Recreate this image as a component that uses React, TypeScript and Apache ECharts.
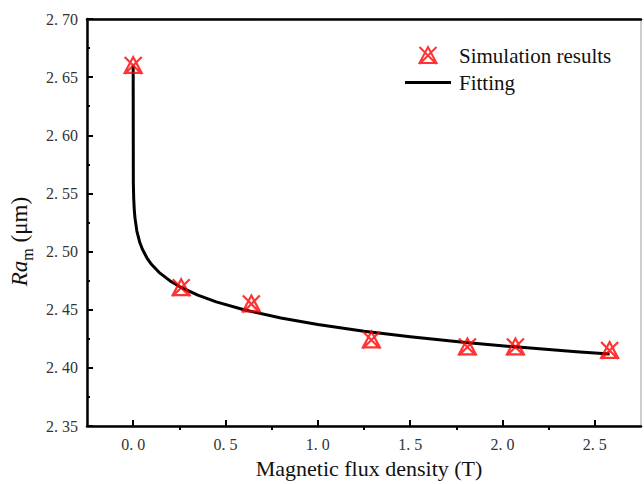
import React, { useEffect, useRef } from "react";
import * as echarts from "echarts";

const simX = [0, 0.26, 0.64, 1.29, 1.81, 2.07, 2.58];
const simY = [2.66, 2.469, 2.455, 2.424, 2.418, 2.418, 2.415];

const fitX = [0, 0.001, 0.003, 0.006, 0.01, 0.02, 0.035, 0.05, 0.075, 0.1, 0.14, 0.2, 0.26, 0.35, 0.45, 0.6, 0.8, 1.0, 1.25, 1.5, 1.8, 2.1, 2.4, 2.58];
const fitY = [2.66, 2.559, 2.5455, 2.536, 2.5286, 2.5177, 2.5083, 2.502, 2.4945, 2.4889, 2.4822, 2.4748, 2.4692, 2.4626, 2.4568, 2.45, 2.443, 2.4374, 2.4316, 2.4268, 2.4219, 2.4177, 2.4139, 2.4119];

const xMajorTicks = [0, 0.5, 1.0, 1.5, 2.0, 2.5];
const xMinorTicks = [0.25, 0.75, 1.25, 1.75, 2.25];
const xRange = [-0.25, 2.75];
const yRange = [2.35, 2.7];
const yStep = 0.05;

const seriesNames = ["Simulation results", "Fitting"];
const xTitle = "Magnetic flux density (T)";

const FONT = "'Liberation Serif', 'Times New Roman', serif";
const MARKER = "path://M10 2 L18 17 L2 17 Z M2 2 L18 18 M18 2 L2 18";
const LINE_ICON = "path://M0 0 H46 V3 H0 Z";

export default function App() {
  const ref = useRef<HTMLDivElement>(null);
  useEffect(() => {
    if (!ref.current) return;
    const chart = echarts.init(ref.current, undefined, { renderer: "svg" });
    const gridPos = { left: 87, top: 19, right: 3, bottom: 54 };
    const option: any = {
      animation: false,
      backgroundColor: "#fff",
      grid: [
        { ...gridPos, show: true, borderColor: "#9a9a9a", borderWidth: 1, containLabel: false },
        { ...gridPos, show: false, containLabel: false },
      ],
      legend: {
        orient: "vertical",
        left: 400,
        top: 40,
        itemWidth: 46,
        itemHeight: 17,
        itemGap: 6,
        symbolKeepAspect: true,
        data: [{ name: seriesNames[0] }, { name: seriesNames[1], icon: LINE_ICON }],
        textStyle: { fontFamily: FONT, fontSize: 21, color: "#111", padding: [0, 0, 0, 3] },
      },
      xAxis: [
        {
          type: "value",
          gridIndex: 0,
          position: "bottom",
          min: xRange[0],
          max: xRange[1],
          splitLine: { show: false },
          axisLine: { show: true, onZero: false, lineStyle: { color: "#000", width: 2.5 } },
          axisTick: {
            show: true,
            inside: true,
            length: 6,
            lineStyle: { color: "#000", width: 2 },
            customValues: xMajorTicks,
          },
          axisLabel: {
            show: true,
            margin: 10,
            fontFamily: FONT,
            fontSize: 16,
            color: "#333",
            customValues: xMajorTicks,
            formatter: (v: number) => v.toFixed(1).replace(".", ". "),
          },
          name: xTitle,
          nameLocation: "middle",
          nameGap: 27,
          nameTextStyle: { fontFamily: FONT, fontSize: 22, color: "#111", padding: [0, 0, 0, 10] },
        },
        {
          type: "value",
          gridIndex: 0,
          position: "top",
          min: xRange[0],
          max: xRange[1],
          splitLine: { show: false },
          axisLine: { show: true, onZero: false, lineStyle: { color: "#000", width: 2.5 } },
          axisTick: { show: false },
          axisLabel: { show: false },
        },
        {
          type: "value",
          gridIndex: 1,
          position: "bottom",
          min: xRange[0],
          max: xRange[1],
          splitLine: { show: false },
          axisLine: { show: false, onZero: false },
          axisTick: {
            show: true,
            inside: true,
            length: 3,
            lineStyle: { color: "#000", width: 2 },
            customValues: xMinorTicks,
          },
          axisLabel: { show: false },
        },
      ],
      yAxis: [
        {
          type: "value",
          gridIndex: 0,
          min: yRange[0],
          max: yRange[1],
          interval: yStep,
          splitLine: { show: false },
          axisLine: { show: true, onZero: false, lineStyle: { color: "#000", width: 2.5 } },
          axisTick: { show: true, inside: true, length: 6, lineStyle: { color: "#000", width: 2 } },
          minorTick: { show: true, splitNumber: 2, length: 3, lineStyle: { color: "#000", width: 2 } },
          minorSplitLine: { show: false },
          axisLabel: {
            margin: 9,
            fontFamily: FONT,
            fontSize: 16,
            color: "#333",
            formatter: (v: number) => v.toFixed(2).replace(".", ". "),
          },
          name: "{i|Ra}{s|m}{n| (μm)}",
          nameLocation: "middle",
          nameGap: 44,
          nameRotate: 90,
          nameTextStyle: {
            fontFamily: FONT,
            fontSize: 23,
            color: "#111",
            padding: [0, 38, 0, 0],
            rich: {
              i: { fontFamily: FONT, fontSize: 23, fontStyle: "italic", color: "#111", verticalAlign: "top" },
              s: { fontFamily: FONT, fontSize: 16, color: "#111", verticalAlign: "bottom", padding: [11, 0, 0, 0] },
              n: { fontFamily: FONT, fontSize: 23, color: "#111", verticalAlign: "top" },
            },
          },
        },
        {
          type: "value",
          gridIndex: 1,
          min: yRange[0],
          max: yRange[1],
          show: false,
        },
      ],
      series: [
        {
          name: seriesNames[0],
          type: "scatter",
          xAxisIndex: 0,
          yAxisIndex: 0,
          symbol: MARKER,
          symbolSize: 17,
          z: 3,
          itemStyle: { color: "rgba(255,0,0,0)", borderColor: "#ff0000", borderWidth: 2.2 },
          data: simX.map((x, i) => [x, simY[i]]),
        },
        {
          name: seriesNames[1],
          type: "line",
          xAxisIndex: 0,
          yAxisIndex: 0,
          symbol: "none",
          showSymbol: false,
          smooth: false,
          z: 2,
          lineStyle: { color: "#000", width: 3, join: "round" },
          itemStyle: { color: "#000" },
          data: fitX.map((x, i) => [x, fitY[i]]),
        },
      ],
    };
    chart.setOption(option);
    return () => chart.dispose();
  }, []);
  return (
    <div
      ref={ref}
      style={{ position: "fixed", left: 0, top: 0, width: 644, height: 484, background: "#fff" }}
    />
  );
}
